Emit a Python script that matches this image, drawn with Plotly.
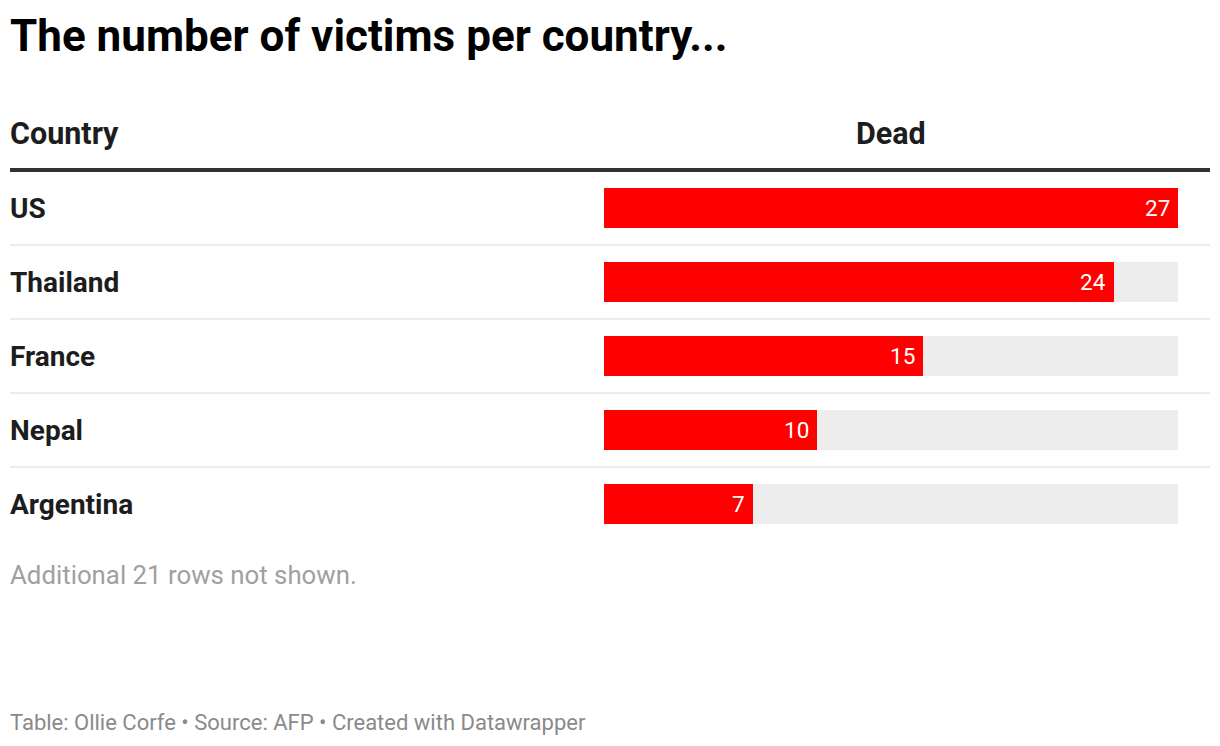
import plotly.graph_objects as go

countries = ["US", "Thailand", "France", "Nepal", "Argentina"]
dead = [27, 24, 15, 10, 7]
title = "The number of victims per country..."
col_headers = ["Country", "Dead"]
note = "Additional 21 rows not shown."
footer = "Table: Ollie Corfe • Source: AFP • Created with Datawrapper"

W, H = 1220, 746
FONT = "Roboto"
max_val = max(dead)

def py(px):
    return 1 - px / H

def pxx(px):
    return px / W

fig = go.Figure()
fig.add_trace(go.Bar(
    y=countries, x=[max_val] * len(countries), orientation="h",
    marker=dict(color="#ededed", line=dict(width=0)), width=40 / 74,
    hoverinfo="skip", showlegend=False,
))
fig.add_trace(go.Bar(
    y=countries, x=dead, orientation="h",
    marker=dict(color="#ff0000", line=dict(width=0)), width=40 / 74,
    showlegend=False,
))

annotations = []
for c, v in zip(countries, dead):
    annotations.append(dict(x=v, y=c, xref="x", yref="y", text=str(v),
                            showarrow=False, xanchor="right", xshift=-6,
                            font=dict(family=FONT, size=22.5, color="#ffffff")))
    annotations.append(dict(x=pxx(8), y=c, xref="paper", yref="y", text=f"<b>{c}</b>",
                            showarrow=False, xanchor="left",
                            font=dict(family=FONT, size=28, color="#1d1d1d")))

annotations += [
    dict(x=pxx(8), y=py(36), xref="paper", yref="paper", text=f"<b>{title}</b>",
         showarrow=False, xanchor="left", yanchor="middle",
         font=dict(family=FONT, size=44, color="#000000")),
    dict(x=pxx(8), y=py(133), xref="paper", yref="paper", text=f"<b>{col_headers[0]}</b>",
         showarrow=False, xanchor="left", yanchor="middle",
         font=dict(family=FONT, size=30.5, color="#1d1d1d")),
    dict(x=pxx(891), y=py(133), xref="paper", yref="paper", text=f"<b>{col_headers[1]}</b>",
         showarrow=False, xanchor="center", yanchor="middle",
         font=dict(family=FONT, size=30.5, color="#1d1d1d")),
    dict(x=pxx(8), y=py(575), xref="paper", yref="paper", text=note,
         showarrow=False, xanchor="left", yanchor="middle",
         font=dict(family=FONT, size=25.8, color="#a0a0a0")),
    dict(x=pxx(8), y=py(722), xref="paper", yref="paper", text=footer,
         showarrow=False, xanchor="left", yanchor="middle",
         font=dict(family=FONT, size=22, color="#8a8a8a")),
]

shapes = [dict(type="line", xref="paper", yref="paper", x0=pxx(10), x1=pxx(1210),
               y0=py(170), y1=py(170), line=dict(color="#333333", width=4))]
for i in range(len(countries) - 1):
    shapes.append(dict(type="line", xref="paper", yref="y", x0=pxx(10), x1=pxx(1210),
                       y0=i + 0.5, y1=i + 0.5, line=dict(color="#e6e6e6", width=1.3)))

n = len(countries)
row_h = 74
top_px = 208 - row_h / 2
bot_px = top_px + n * row_h

fig.update_layout(
    width=W, height=H, margin=dict(l=0, r=0, t=0, b=0),
    paper_bgcolor="white", plot_bgcolor="white",
    barmode="overlay", bargap=0,
    xaxis=dict(domain=[pxx(604), pxx(1178)], range=[0, max_val], visible=False, fixedrange=True),
    yaxis=dict(domain=[py(bot_px), py(top_px)], range=[n - 0.5, -0.5], visible=False,
               type="category", categoryorder="array", categoryarray=countries, fixedrange=True),
    annotations=annotations, shapes=shapes,
    font=dict(family=FONT),
)

fig.write_html("out.html", config={"displayModeBar": False},
               post_script="document.body.style.margin='0';document.body.style.overflow='hidden';")
